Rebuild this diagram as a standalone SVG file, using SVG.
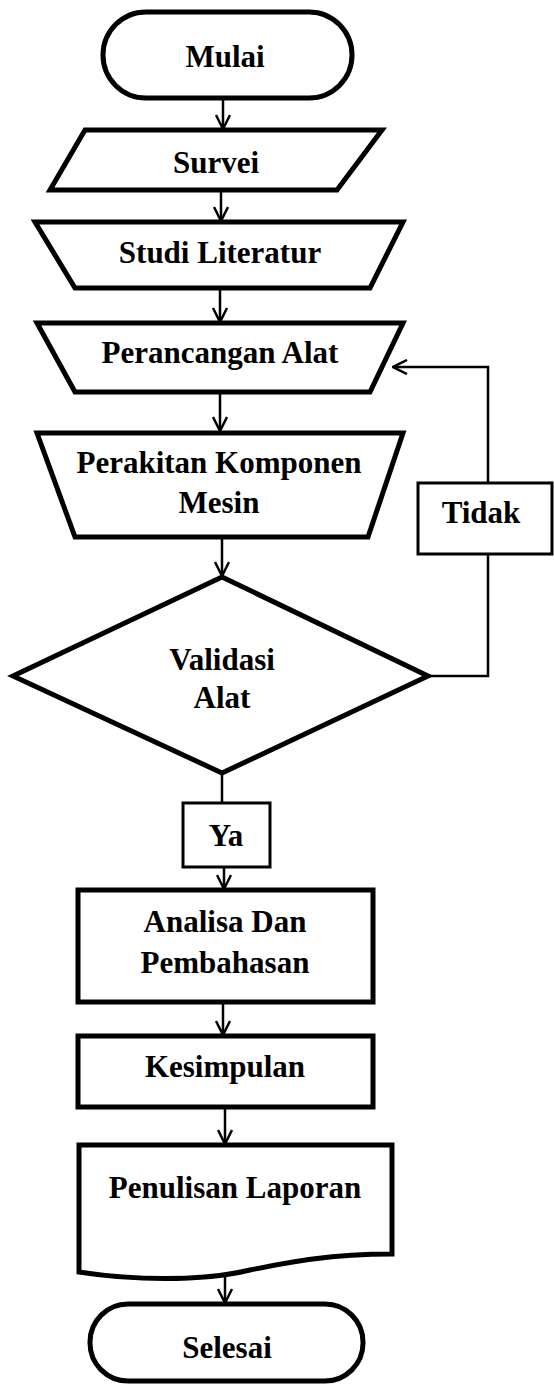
<svg xmlns="http://www.w3.org/2000/svg" width="554" height="1384" viewBox="0 0 554 1384">
<style>
.s{fill:#fff;stroke:#000;stroke-width:5;stroke-linejoin:miter}
.b{fill:#fff;stroke:#000;stroke-width:3}
.t{font-family:"Liberation Serif","Times New Roman",serif;font-weight:bold;font-size:31px;fill:#000;text-anchor:middle}
.c{fill:none;stroke:#000;stroke-width:2.5}
</style>
<defs>
<marker id="ah" viewBox="0 0 16 16" refX="15" refY="8" markerWidth="16" markerHeight="16" markerUnits="userSpaceOnUse" orient="auto">
<path d="M1,1 L15,8 L1,15" fill="none" stroke="#000" stroke-width="2.5"/>
</marker>
</defs>
<rect width="554" height="1384" fill="#fff"/>
<g id="connectors">
<line class="c" x1="223" y1="98" x2="223" y2="129" marker-end="url(#ah)"/>
<line class="c" x1="221" y1="190" x2="221" y2="221" marker-end="url(#ah)"/>
<line class="c" x1="220" y1="288" x2="220" y2="322" marker-end="url(#ah)"/>
<line class="c" x1="220" y1="392" x2="220" y2="431" marker-end="url(#ah)"/>
<line class="c" x1="222" y1="537" x2="222" y2="576" marker-end="url(#ah)"/>
<polyline class="c" points="428,676 488,676 488,555"/>
<polyline class="c" points="488,483 488,367 393,367" marker-end="url(#ah)"/>
<line class="c" x1="222" y1="773" x2="222" y2="803"/>
<line class="c" x1="224" y1="867" x2="224" y2="889" marker-end="url(#ah)"/>
<line class="c" x1="223" y1="1002" x2="223" y2="1035" marker-end="url(#ah)"/>
<line class="c" x1="225" y1="1107" x2="225" y2="1144" marker-end="url(#ah)"/>
<line class="c" x1="225" y1="1277" x2="225" y2="1303" marker-end="url(#ah)"/>
</g>
<g id="mulai">
<rect class="s" x="103" y="12" width="249" height="86" rx="43" ry="43"/>
<text class="t" x="225" y="67">Mulai</text>
</g>
<g id="survei">
<polygon class="s" points="85,130 382,130 337,190 50,190"/>
<text class="t" x="216" y="173">Survei</text>
</g>
<g id="studi">
<polygon class="s" points="35,222 403,222 370,288 75,288"/>
<text class="t" x="220" y="263">Studi Literatur</text>
</g>
<g id="perancangan">
<polygon class="s" points="37,323 403,323 370,392 75,392"/>
<text class="t" x="220" y="363">Perancangan Alat</text>
</g>
<g id="perakitan">
<polygon class="s" points="37,433 403,433 368,537 75,537"/>
<text class="t" x="219" y="473">Perakitan Komponen</text>
<text class="t" x="219" y="513">Mesin</text>
</g>
<g id="tidak">
<rect class="b" x="418" y="483" width="134" height="71"/>
<text class="t" x="481" y="523">Tidak</text>
</g>
<g id="validasi">
<polygon class="s" points="222,577 428,676 222,773 13,676"/>
<text class="t" x="222" y="670">Validasi</text>
<text class="t" x="222" y="708">Alat</text>
</g>
<g id="ya">
<rect class="b" x="183" y="803" width="87" height="64"/>
<text class="t" x="226" y="846">Ya</text>
</g>
<g id="analisa">
<rect class="s" x="78" y="890" width="295" height="112"/>
<text class="t" x="225" y="932">Analisa Dan</text>
<text class="t" x="225" y="973">Pembahasan</text>
</g>
<g id="kesimpulan">
<rect class="s" x="78" y="1036" width="295" height="71"/>
<text class="t" x="225" y="1077">Kesimpulan</text>
</g>
<g id="penulisan">
<path class="s" d="M79,1145 L392,1145 L392,1254 C330,1254 290,1262 250,1270 C200,1282 130,1280 79,1272 Z"/>
<text class="t" x="235" y="1198">Penulisan Laporan</text>
</g>
<g id="selesai">
<rect class="s" x="90" y="1304" width="273" height="77" rx="38" ry="38"/>
<text class="t" x="227" y="1358">Selesai</text>
</g>
</svg>
